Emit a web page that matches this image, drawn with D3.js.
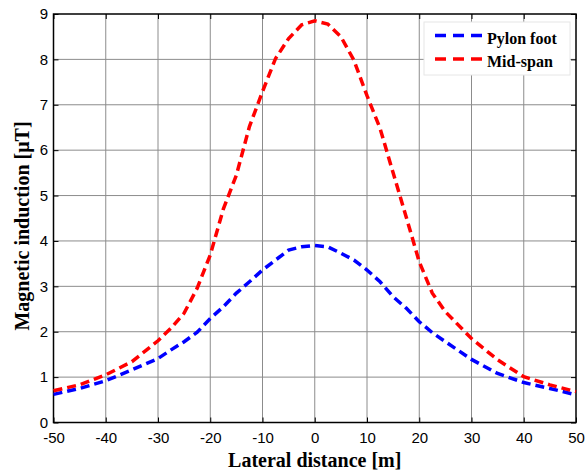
<!DOCTYPE html>
<html>
<head>
<meta charset="utf-8">
<script src="https://cdn.jsdelivr.net/npm/d3@7"></script>
<style>
  body { margin: 0; background: #fff; }
  .tick text { font-family: "Liberation Sans", Arial, sans-serif; font-size: 15px; }
  .lbl { font-family: "Liberation Serif", "Times New Roman", serif; font-weight: bold; }
</style>
</head>
<body>
<div id="chart"></div>
<script>
// lateral distance [m]
const distance = [-50, -45, -40, -35, -30, -27.5, -25, -22.5, -20, -17.5, -15, -12.5, -10, -7.5, -5, -2.5,
  0, 2.5, 5, 7.5, 10, 12.5, 15, 17.5, 20, 22.5, 25, 30, 35, 40, 45, 50];
// magnetic induction [uT]
const pylonFoot = [0.62, 0.75, 0.92, 1.16, 1.41, 1.60, 1.78, 1.99, 2.29, 2.55, 2.85, 3.10, 3.36, 3.58, 3.80, 3.87,
  3.90, 3.87, 3.73, 3.58, 3.36, 3.10, 2.77, 2.52, 2.22, 1.98, 1.78, 1.39, 1.08, 0.88, 0.75, 0.61];
const midSpan = [0.70, 0.83, 1.05, 1.34, 1.80, 2.08, 2.41, 2.96, 3.69, 4.70, 5.45, 6.52, 7.29, 8.02, 8.46, 8.76,
  8.85, 8.78, 8.50, 7.98, 7.20, 6.48, 5.50, 4.53, 3.54, 2.85, 2.44, 1.85, 1.38, 1.01, 0.83, 0.68];
const xTicks = [-50, -40, -30, -20, -10, 0, 10, 20, 30, 40, 50];
const yTicks = [0, 1, 2, 3, 4, 5, 6, 7, 8, 9];
const seriesNames = ["Pylon foot", "Mid-span"];
const seriesColors = ["#0000ff", "#ff0000"];

const W = 585, H = 472;
const margin = { top: 14, right: 9, bottom: 49.5, left: 53.5 };
const width = W - margin.left - margin.right,
      height = H - margin.top - margin.bottom;

const svg = d3.select("#chart").append("svg")
    .attr("width", W)
    .attr("height", H);
const g = svg.append("g")
    .attr("transform", `translate(${margin.left},${margin.top})`);

const x = d3.scaleLinear().domain([-50, 50]).range([0, width]);
const y = d3.scaleLinear().domain([0, 9]).range([height, 0]);

// grid
g.append("g").selectAll("line").data(xTicks.slice(1, -1)).enter().append("line")
    .attr("x1", d => x(d)).attr("x2", d => x(d))
    .attr("y1", 0).attr("y2", height)
    .attr("stroke", "#8c8c8c").attr("stroke-width", 1);
g.append("g").selectAll("line").data(yTicks.slice(1, -1)).enter().append("line")
    .attr("y1", d => y(d)).attr("y2", d => y(d))
    .attr("x1", 0).attr("x2", width)
    .attr("stroke", "#8c8c8c").attr("stroke-width", 1);

// axes (ticks inward), plain hyphen for negatives
const fmt = d => String(d);
g.append("g")
    .attr("transform", `translate(0,${height})`)
    .call(d3.axisBottom(x).tickValues(xTicks).tickFormat(fmt).tickSize(-5).tickPadding(9.5).tickSizeOuter(0));
g.append("g")
    .call(d3.axisLeft(y).tickValues(yTicks).tickFormat(fmt).tickSize(-5).tickPadding(5.5).tickSizeOuter(0));
g.append("g")
    .call(d3.axisTop(x).tickValues(xTicks).tickSize(-5).tickFormat("").tickSizeOuter(0));
g.append("g")
    .attr("transform", `translate(${width},0)`)
    .call(d3.axisRight(y).tickValues(yTicks).tickSize(-5).tickFormat("").tickSizeOuter(0));
g.selectAll(".domain").remove();
g.selectAll(".tick line").attr("stroke", "#000");
g.selectAll(".tick text").attr("fill", "#000");

g.append("rect")
    .attr("width", width).attr("height", height)
    .attr("fill", "none").attr("stroke", "#000").attr("stroke-width", 1.5);

// lines
const line = d3.line().x((d, i) => x(distance[i])).y(d => y(d));
[pylonFoot, midSpan].forEach((s, i) => {
    g.append("path")
        .datum(s)
        .attr("d", line)
        .attr("fill", "none")
        .attr("stroke", seriesColors[i])
        .attr("stroke-width", 3.5)
        .attr("stroke-dasharray", "9,5");
});

// legend
const legend = svg.append("g").attr("transform", "translate(424,22)");
legend.append("rect")
    .attr("width", 146).attr("height", 53)
    .attr("fill", "#fff").attr("stroke", "#e6e6e6");
seriesNames.forEach((name, i) => {
    legend.append("line")
        .attr("x1", 11).attr("x2", 59)
        .attr("y1", 13.5 + i * 23.5).attr("y2", 13.5 + i * 23.5)
        .attr("stroke", seriesColors[i])
        .attr("stroke-width", 3.5)
        .attr("stroke-dasharray", "11,7");
    legend.append("text")
        .attr("class", "lbl")
        .attr("x", 63).attr("y", 22 + i * 23)
        .style("font-size", "16px")
        .text(name);
});

// axis labels
svg.append("text")
    .attr("class", "lbl")
    .attr("text-anchor", "middle")
    .attr("x", margin.left + width / 2)
    .attr("y", 466.5)
    .style("font-size", "20px")
    .text("Lateral distance [m]");
svg.append("text")
    .attr("class", "lbl")
    .attr("text-anchor", "middle")
    .attr("transform", "rotate(-90)")
    .attr("x", -226)
    .attr("y", 28.5)
    .style("font-size", "20px")
    .text("Magnetic induction [μT]");
</script>
</body>
</html>
